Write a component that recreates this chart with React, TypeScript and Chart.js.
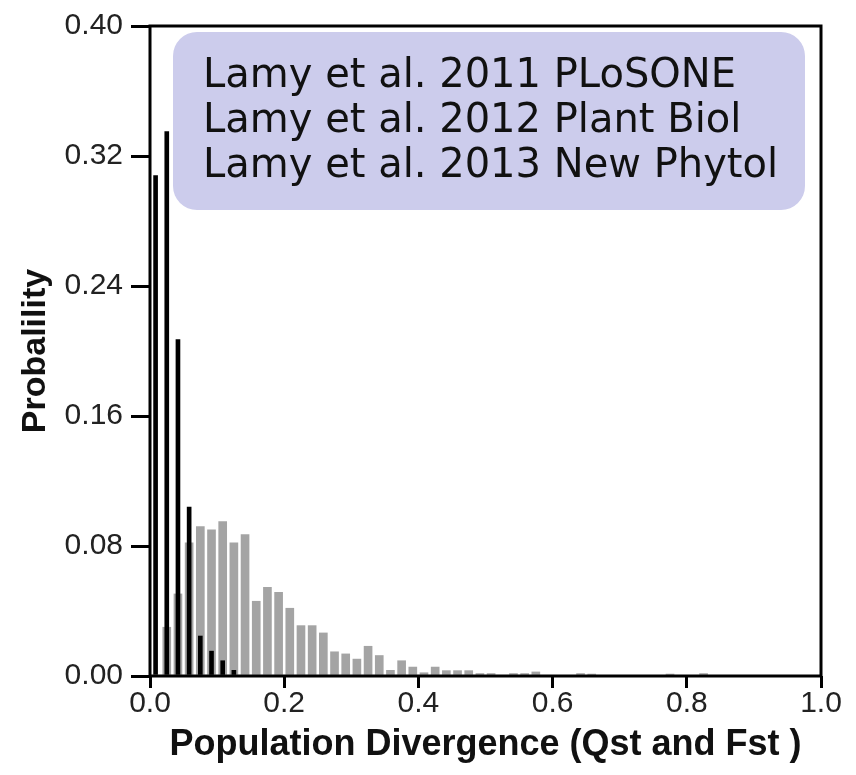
import React, { useEffect, useRef } from "react";
import { Chart, registerables } from "chart.js";

Chart.register(...registerables);

// Histogram bins of width 1/60 on [0, 1]
const BIN_COUNT = 60;
const qstProbabilities = [
  0, 0.03, 0.0505, 0.082, 0.092, 0.09, 0.095, 0.082, 0.087, 0.046,
  0.0546, 0.0515, 0.0417, 0.031, 0.031, 0.0265, 0.0149, 0.0136, 0.0104, 0.0183,
  0.0126, 0.0035, 0.0094, 0.0055, 0.002, 0.0055, 0.0033, 0.0033, 0.0033, 0.0015,
  0.0015, 0, 0.0015, 0.0015, 0.0025, 0, 0, 0, 0.0015, 0.0012,
  0, 0, 0, 0, 0, 0, 0.0012, 0, 0, 0.0015,
];
const fstProbabilities = [0.308, 0.335, 0.207, 0.104, 0.0246, 0.0153, 0.0094, 0.0035];

const xTickValues = [0, 0.2, 0.4, 0.6, 0.8, 1.0];
const yTickValues = [0, 0.08, 0.16, 0.24, 0.32, 0.4];

const legendLines = [
  "Lamy et al. 2011 PLoSONE",
  "Lamy et al. 2012 Plant Biol",
  "Lamy et al. 2013 New Phytol",
];

const xTitle = "Population Divergence (Qst and Fst )";
const yTitle = "Probalility";

const binCenter = (i: number) => (i + 0.5) / BIN_COUNT;

const AXIS_FONT = '"Liberation Sans", Arial, Helvetica, sans-serif';

const framePlugin = {
  id: "frameAndLegend",
  afterDatasetsDraw(chart: any) {
    const { ctx, chartArea } = chart;
    ctx.save();
    ctx.strokeStyle = "#000";
    ctx.lineWidth = 3;
    ctx.strokeRect(chartArea.left, chartArea.top, chartArea.right - chartArea.left, chartArea.bottom - chartArea.top);
    ctx.restore();
  },
  afterDraw(chart: any) {
    const { ctx } = chart;
    ctx.save();
    ctx.fillStyle = "rgb(204,204,236)";
    ctx.beginPath();
    (ctx as any).roundRect(173, 32, 632, 178, 24);
    ctx.fill();
    ctx.fillStyle = "#111";
    ctx.font = '40px "DejaVu Sans"';
    ctx.textBaseline = "middle";
    ctx.textAlign = "left";
    legendLines.forEach((t, i) => {
      ctx.fillText(t, 203, 77 + i * 45);
    });
    ctx.restore();
  },
};

export default function App() {
  const canvasRef = useRef<HTMLCanvasElement | null>(null);

  useEffect(() => {
    if (!canvasRef.current) return;
    const chart = new Chart(canvasRef.current, {
      type: "bar",
      data: {
        datasets: [
          {
            label: "Fst",
            data: fstProbabilities.map((v, i) => ({ x: binCenter(i), y: v })),
            backgroundColor: "#000",
            barThickness: 4,
            order: 0,
          },
          {
            label: "Qst",
            data: qstProbabilities.map((v, i) => ({ x: binCenter(i), y: v })),
            backgroundColor: "#a4a4a4",
            barThickness: 8,
            order: 1,
          },
        ],
      },
      options: {
        animation: false,
        responsive: false,
        maintainAspectRatio: false,
        layout: { padding: { top: 20, right: 35, left: 0, bottom: 0 } },
        datasets: { bar: { grouped: false } },
        plugins: { legend: { display: false }, tooltip: { enabled: false } },
        scales: {
          x: {
            type: "linear",
            min: 0,
            max: 1,
            offset: false,
            border: { display: false },
            grid: {
              offset: false,
              drawOnChartArea: false,
              drawTicks: true,
              tickLength: 12,
              lineWidth: 3,
              color: "#000",
            },
            afterBuildTicks: (scale: any) => {
              scale.ticks = xTickValues.map((v) => ({ value: v }));
            },
            afterFit: (scale: any) => {
              scale.height = 99;
            },
            ticks: {
              color: "#222",
              padding: -2,
              font: { family: AXIS_FONT, size: 30 },
              callback: (v: any) => Number(v).toFixed(1),
              maxRotation: 0,
              autoSkip: false,
            },
            title: {
              display: true,
              text: xTitle,
              color: "#111",
              font: { family: AXIS_FONT, size: 36, weight: "bold", lineHeight: 1 },
              padding: { top: 0, bottom: 12 },
            },
          },
          y: {
            type: "linear",
            min: 0,
            max: 0.4,
            border: { display: false },
            grid: {
              drawOnChartArea: false,
              drawTicks: true,
              tickLength: 19,
              lineWidth: 3,
              color: "#000",
            },
            afterBuildTicks: (scale: any) => {
              scale.ticks = yTickValues.map((v) => ({ value: v }));
            },
            afterFit: (scale: any) => {
              scale.width = 150;
            },
            ticks: {
              color: "#222",
              padding: 8,
              font: { family: AXIS_FONT, size: 30 },
              callback: (v: any) => Number(v).toFixed(2),
              autoSkip: false,
            },
            title: {
              display: true,
              text: yTitle,
              color: "#111",
              font: { family: AXIS_FONT, size: 34, weight: "bold", lineHeight: 1 },
              padding: { top: 19, bottom: 0 },
            },
          },
        },
      },
      plugins: [framePlugin],
    } as any);
    return () => chart.destroy();
  }, []);

  return (
    <div style={{ position: "fixed", left: 0, top: 0, width: 856, height: 775, background: "#fff" }}>
      <canvas ref={canvasRef} width={856} height={775} style={{ width: 856, height: 775, display: "block" }} />
    </div>
  );
}
